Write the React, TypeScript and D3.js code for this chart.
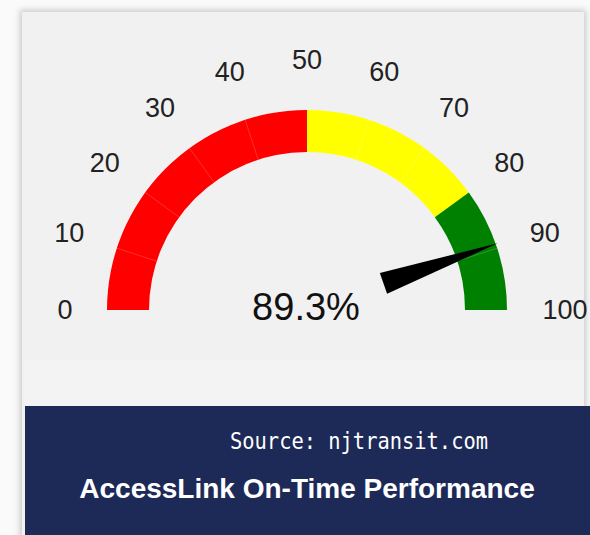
import React from 'react';
import * as d3 from 'd3';

// gauge data
const tickValues = [0, 10, 20, 30, 40, 50, 60, 70, 80, 90, 100];
const bandLimits = [0, 50, 80, 100];
const bandColors = ['#ff0000', '#ffff00', '#008000'];
const onTimePct = 89.3;
const sourceText = 'Source: njtransit.com';
const titleText = 'AccessLink On-Time Performance';

const W = 590;
const H = 535;
const cx = 307;
const cy = 310;
const outerR = 200;
const innerR = 158;
const labelR = 250;

export default function App() {
  const angle = d3.scaleLinear().domain([0, 100]).range([-Math.PI / 2, Math.PI / 2]);
  const arc = d3.arc<any>().innerRadius(innerR).outerRadius(outerR);

  const polar = (a: number, r: number): [number, number] => [
    cx + r * Math.sin(a),
    cy - r * Math.cos(a),
  ];

  const bands = bandColors.map((c, i) => ({
    color: c,
    path: arc({ startAngle: angle(bandLimits[i]), endAngle: angle(bandLimits[i + 1]) }),
  }));

  // thin separators every 10 units inside a band
  const separators = tickValues.filter((t) => !bandLimits.includes(t));

  // needle
  const a = angle(onTimePct);
  const tip = polar(a, 202);
  const base = polar(a, 81);
  const px = Math.cos(a) * 11;
  const py = Math.sin(a) * 11;
  const needle = [
    [base[0] - px, base[1] - py],
    tip,
    [base[0] + px, base[1] + py],
  ];

  const [lo, hi] = angle.domain();

  return (
    <svg
      width={W}
      height={H}
      style={{ position: 'absolute', left: 0, top: 0, display: 'block' }}
    >
      <defs>
        <filter id="shadow" x="-5%" y="-5%" width="110%" height="110%">
          <feGaussianBlur stdDeviation="3" />
        </filter>
      </defs>
      <rect width={W} height={H} fill="#fafafa" />
      <rect x={20} y={10} width={566} height={530} fill="#c8c8c8" filter="url(#shadow)" />
      <rect x={22} y={12} width={562} height={523} fill="#f1f1f1" />
      <rect x={24} y={360} width={560} height={46} fill="#f3f3f3" />
      <rect x={25} y={406} width={565} height={129} fill="#1d2a58" />

      {bands.map((b, i) => (
        <path key={i} d={b.path as string} transform={`translate(${cx},${cy})`} fill={b.color} />
      ))}
      {separators.map((t) => {
        const p1 = polar(angle(t), innerR);
        const p2 = polar(angle(t), outerR);
        return (
          <line
            key={t}
            x1={p1[0]}
            y1={p1[1]}
            x2={p2[0]}
            y2={p2[1]}
            stroke="rgba(255,255,255,0.18)"
            strokeWidth={1}
          />
        );
      })}

      {tickValues.map((t) => {
        const p = polar(angle(t), labelR);
        const dx = t === lo || t === hi ? 8 : 0;
        return (
          <text
            key={t}
            x={p[0] + dx}
            y={p[1]}
            textAnchor="middle"
            dominantBaseline="central"
            fontFamily="'Liberation Sans', Arial, sans-serif"
            fontSize={27}
            fill="#222"
          >
            {t}
          </text>
        );
      })}

      <text
        x={306}
        y={320}
        textAnchor="middle"
        fontFamily="'Liberation Sans', Arial, sans-serif"
        fontSize={38}
        fill="#111"
      >
        {onTimePct.toFixed(1)}%
      </text>

      <polygon points={needle.map((p) => p.join(',')).join(' ')} fill="#000" />

      <text
        x={359}
        y={449}
        textAnchor="middle"
        fontFamily="'DejaVu Sans Mono', monospace"
        fontSize={23}
        textLength={258}
        lengthAdjust="spacingAndGlyphs"
        fill="#fff"
      >
        {sourceText}
      </text>
      <text
        x={307}
        y={498}
        textAnchor="middle"
        fontFamily="'Liberation Sans', Arial, sans-serif"
        fontWeight="bold"
        fontSize={28}
        fill="#fff"
      >
        {titleText}
      </text>
    </svg>
  );
}
